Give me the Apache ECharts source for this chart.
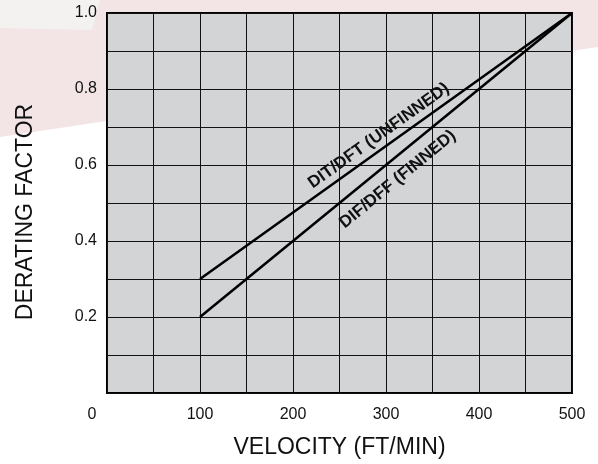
<!DOCTYPE html>
<html><head><meta charset="utf-8">
<script src="https://cdn.jsdelivr.net/npm/echarts@6/dist/echarts.min.js"></script>
<style>html,body{margin:0;padding:0;background:#fff}#c{width:598px;height:464px}</style>
</head><body><div id="c"></div>
<script>
const velocity = [100, 500];
const unfinned = [0.3, 1.0];
const finned = [0.2, 1.0];
const unfinnedName = 'DIT/DFT (UNFINNED)';
const finnedName = 'DIF/DFF (FINNED)';
const xTickLabels = [0, 100, 200, 300, 400, 500];
const yTickLabels = [0.2, 0.4, 0.6, 0.8, 1.0];

const FONT = '"Liberation Sans", Arial, Helvetica, sans-serif';
const chart = echarts.init(document.getElementById('c'), null, {renderer: 'canvas'});

function pairs(xs, ys) { return xs.map((x, i) => [x, ys[i]]); }

chart.setOption({
  animation: false,
  backgroundColor: 'transparent',
  graphic: [
    {type: 'polygon', z: -100, silent: true, shape: {points: [[0,0],[598,0],[598,47],[0,137]]}, style: {fill: '#f3e5e5'}},
    {type: 'polygon', z: -99, silent: true, shape: {points: [[0,0],[100,0],[92,30],[0,28]]}, style: {fill: '#f4f1f1'}}
  ],
  grid: {
    left: 107, right: 26, top: 13, bottom: 70,
    show: true, backgroundColor: '#d3d4d6', borderColor: '#000', borderWidth: 2
  },
  xAxis: {
    type: 'value', min: 0, max: 500, interval: 50,
    name: 'VELOCITY (FT/MIN)', nameLocation: 'middle', nameGap: 43,
    nameTextStyle: {fontFamily: FONT, fontSize: 23, color: '#111'},
    axisLine: {show: false}, axisTick: {show: false},
    axisLabel: {
      margin: 14, fontFamily: FONT, fontSize: 16, color: '#111',
      formatter: v => {
        if (v === 0) return '{o|0}';
        return xTickLabels.indexOf(v) >= 0 ? String(v) : '';
      },
      rich: {o: {fontFamily: FONT, fontSize: 16, color: '#111', padding: [0, 30, 0, 0]}}
    },
    splitLine: {show: true, lineStyle: {color: '#111', width: 1}}
  },
  yAxis: {
    type: 'value', min: 0, max: 1.0, interval: 0.1,
    name: 'DERATING FACTOR', nameLocation: 'middle', nameGap: 70, nameRotate: 90,
    nameTextStyle: {fontFamily: FONT, fontSize: 23, color: '#111', padding: [0, 18, 0, 0]},
    axisLine: {show: false}, axisTick: {show: false},
    axisLabel: {
      margin: 10, fontFamily: FONT, fontSize: 16, color: '#111',
      formatter: v => {
        const r = Math.round(v * 10) / 10;
        return yTickLabels.some(t => Math.abs(t - r) < 1e-9) ? r.toFixed(1) : '';
      }
    },
    splitLine: {show: true, lineStyle: {color: '#111', width: 1}}
  },
  series: [
    {
      name: unfinnedName, type: 'line', data: pairs(velocity, unfinned),
      symbol: 'none', lineStyle: {color: '#000', width: 2.5}, z: 5,
      markLine: {
        silent: true, symbol: 'none', lineStyle: {color: 'rgba(0,0,0,0)', width: 1},
        label: {show: true, position: 'insideMiddleTop', distance: 4, formatter: unfinnedName,
                fontFamily: FONT, fontWeight: 'bold', fontSize: 17, color: '#111'},
        data: [[{coord: [velocity[0], unfinned[0]]}, {coord: [velocity[1], unfinned[1]]}]]
      }
    },
    {
      name: finnedName, type: 'line', data: pairs(velocity, finned),
      symbol: 'none', lineStyle: {color: '#000', width: 2.5}, z: 5,
      markLine: {
        silent: true, symbol: 'none', lineStyle: {color: 'rgba(0,0,0,0)', width: 1},
        label: {show: true, position: 'insideMiddleBottom', distance: 10, formatter: finnedName,
                fontFamily: FONT, fontWeight: 'bold', fontSize: 17, color: '#111'},
        data: [[{coord: [velocity[0], finned[0]]}, {coord: [velocity[1], finned[1]]}]]
      }
    }
  ]
});
</script></body></html>
